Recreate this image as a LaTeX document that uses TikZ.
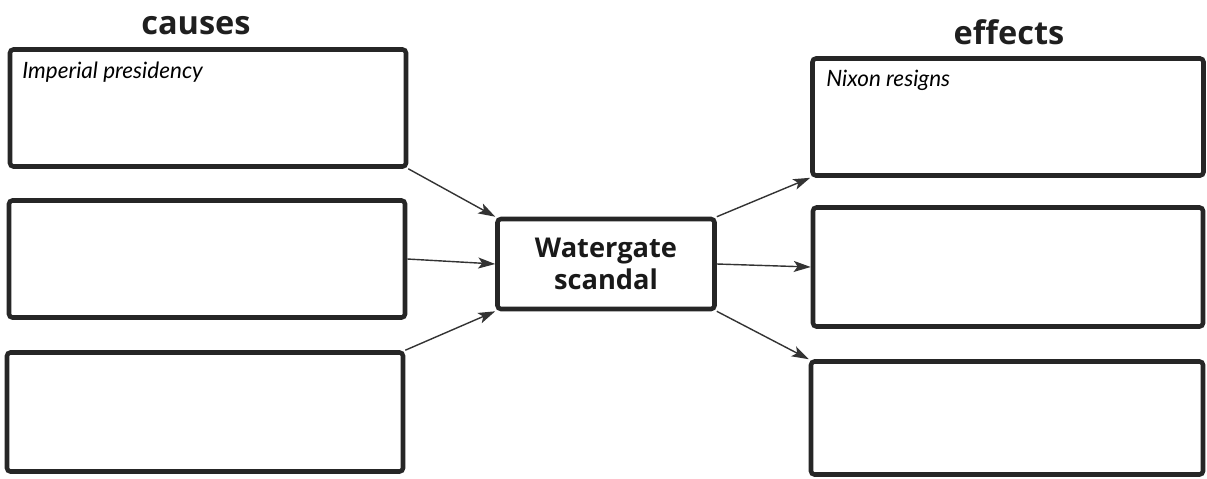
\documentclass[tikz,border=0pt]{standalone}
\usepackage{fontspec}
\setmainfont{Open Sans}
\newfontfamily\handfont{Lato}
\usetikzlibrary{arrows.meta}
\tikzset{
  kasten/.style={draw=black!85, line width=2.6pt, rounded corners=2pt, inner sep=0pt},
  titel/.style={font=\fontsize{18.5}{22}\selectfont\bfseries, text=black!88},
  notiz/.style={font=\handfont\itshape\fontsize{12.8}{15}\selectfont, anchor=base west, inner sep=0pt},
  pfeil/.style={draw=black!80, line width=0.8pt, -{Stealth[length=3.4mm,width=2.2mm,inset=0.8mm]}}
}
\begin{document}
\begin{tikzpicture}[x=0.2mm, y=-0.2mm]
\useasboundingbox (0,0) rectangle (1207,478);
% Ueberschriften
\node[titel] (ursachen) at (196,26) {causes};
\node[titel] (folgen) at (1009,32) {effects};
% Ursachen links
\node[kasten, minimum width=396*0.2mm, minimum height=117*0.2mm] (u1) at (208,108) {};
\node[kasten, minimum width=396*0.2mm, minimum height=117*0.2mm] (u2) at (207,259) {};
\node[kasten, minimum width=396*0.2mm, minimum height=119*0.2mm] (u3) at (205,412) {};
% Ereignis in der Mitte
\node[kasten, minimum width=217*0.2mm, minimum height=90*0.2mm, align=center,
      font=\fontsize{15.5}{18}\selectfont\bfseries, text=black!90] (wg) at (606,264) {Watergate\\scandal};
% Folgen rechts
\node[kasten, minimum width=391*0.2mm, minimum height=117*0.2mm] (f1) at (1008,117) {};
\node[kasten, minimum width=390*0.2mm, minimum height=119*0.2mm] (f2) at (1008,267) {};
\node[kasten, minimum width=392*0.2mm, minimum height=113*0.2mm] (f3) at (1007,418) {};
% Eintraege
\node[notiz] (n1) at (22,78) {Imperial presidency};
\node[notiz] (n2) at (826,86) {Nixon resigns};
% Pfeile
\draw[pfeil] (u1.south east) -- (wg.north west);
\draw[pfeil] (u2.east) -- (wg.west);
\draw[pfeil] (u3.north east) -- (wg.south west);
\draw[pfeil] (wg.north east) -- (f1.south west);
\draw[pfeil] (wg.east) -- (f2.west);
\draw[pfeil] (wg.south east) -- (f3.north west);
\end{tikzpicture}
\end{document}
